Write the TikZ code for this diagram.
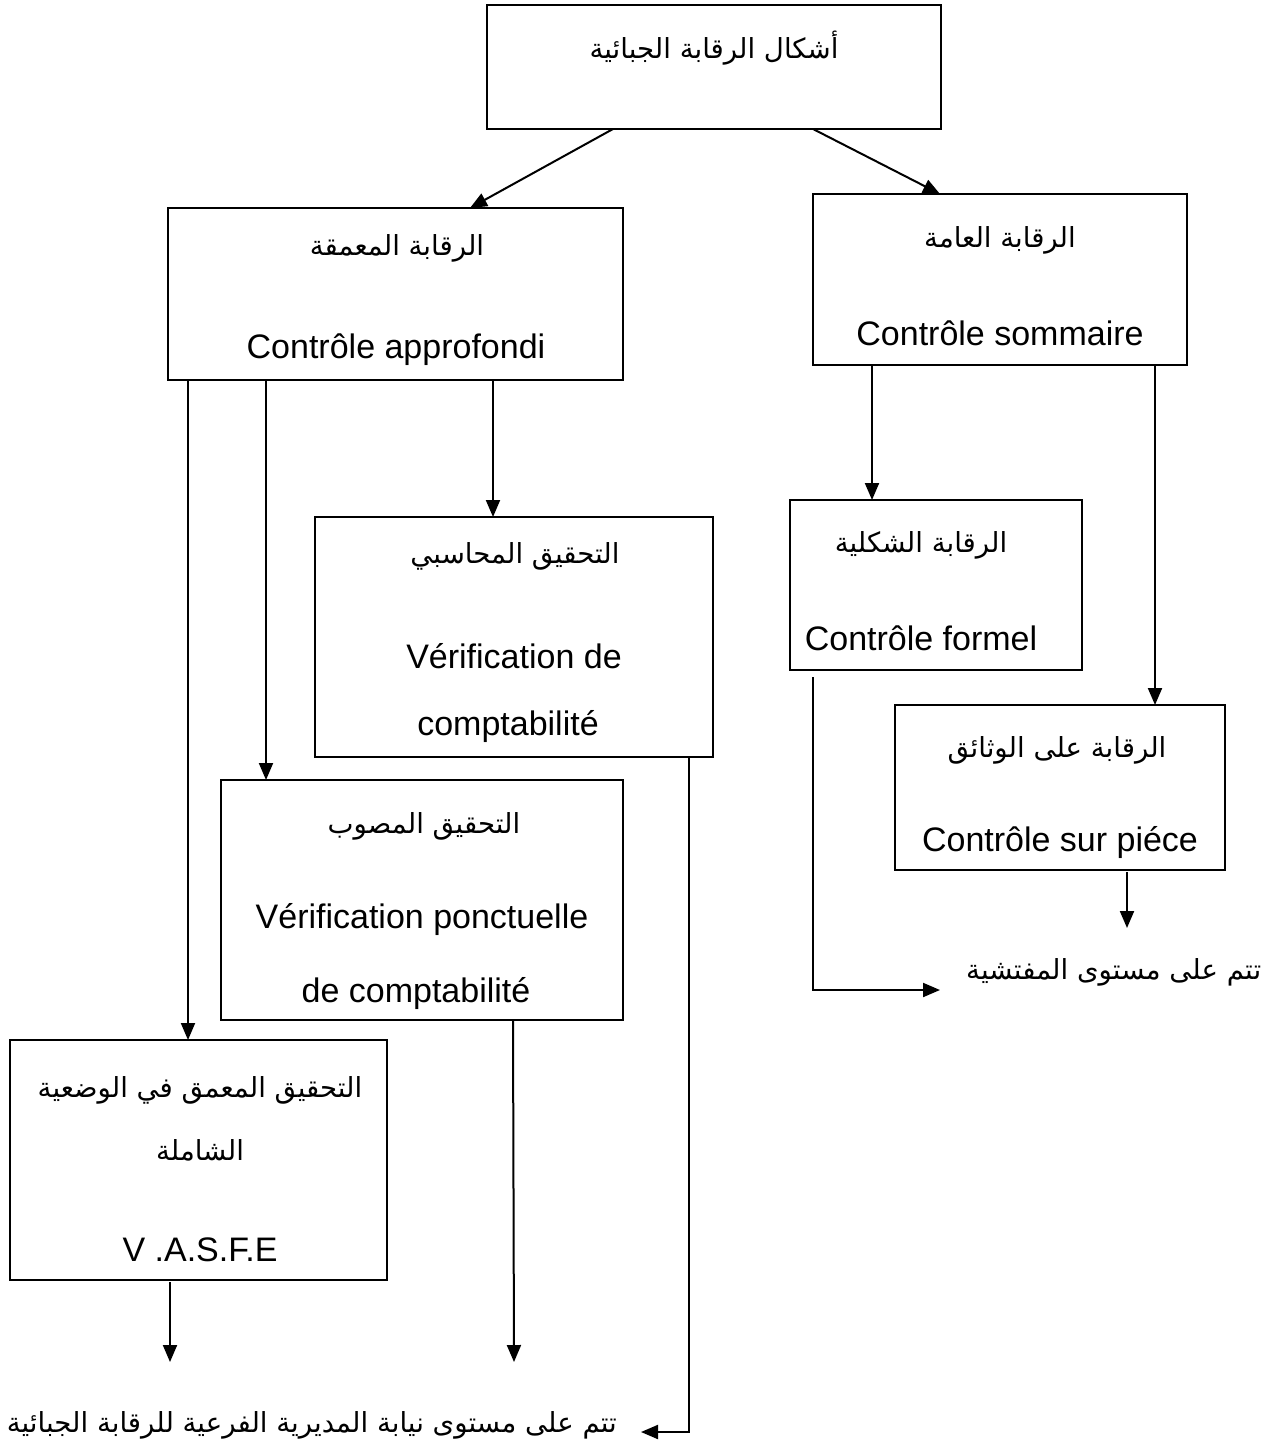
\documentclass[tikz,border=0pt]{standalone}
\usepackage{fontspec}
\setmainfont{Liberation Sans}
\newfontfamily\arabicfont[Script=Arabic]{DejaVu Sans}
\TeXXeTstate=1
\usetikzlibrary{arrows.meta}

\newcommand{\artext}[1]{\beginR #1\endR}

\begin{document}
\begin{tikzpicture}[x=1pt, y=-1pt,
  box/.style={draw, line width=2pt, inner sep=0pt, outer sep=0pt},
  fr/.style={inner sep=0pt, font=\fontsize{34}{40}\selectfont},
  ar/.style={inner sep=0pt, font=\fontsize{27.6}{33}\selectfont\arabicfont},
  arr/.style={line width=2pt, -{Triangle[length=17pt,width=14pt]}},
  ln/.style={line width=2pt}]

\useasboundingbox (0,0) rectangle (1268,1450);

% boxes
\node[box, minimum width=454pt, minimum height=124pt] (top)    at (714,67)    {};
\node[box, minimum width=455pt, minimum height=172pt] (appro)  at (395.5,294) {};
\node[box, minimum width=374pt, minimum height=171pt] (somm)   at (1000,279.5){};
\node[box, minimum width=398pt, minimum height=240pt] (compta) at (514,637)   {};
\node[box, minimum width=402pt, minimum height=240pt] (ponct)  at (422,900)   {};
\node[box, minimum width=377pt, minimum height=240pt] (vasfe)  at (198.5,1160){};
\node[box, minimum width=292pt, minimum height=170pt] (formel) at (936,585)   {};
\node[box, minimum width=330pt, minimum height=165pt] (piece)  at (1060,787.5){};

% texts
\node[ar] (topAr) at (714,48) {\artext{أشكال الرقابة الجبائية}};

\node[ar] (approAr) at (397,248) {\artext{الرقابة المعمقة}};
\node[fr] (approFr) at (396,350) {Contrôle approfondi};

\node[ar] (sommAr) at (1000,240) {\artext{الرقابة العامة}};
\node[fr] (sommFr) at (1000,333) {Contrôle sommaire};

\node[ar] (comptaAr)  at (515,556) {\artext{التحقيق المحاسبي}};
\node[fr] (comptaFrA) at (514,656) {Vérification de};
\node[fr] (comptaFrB) at (508,727) {comptabilité};

\node[ar] (ponctAr)  at (424,826) {\artext{التحقيق المصوب}};
\node[fr] (ponctFrA) at (422,919) {Vérification ponctuelle};
\node[fr] (ponctFrB) at (416,993) {de comptabilité};

\node[ar] (vasfeArA) at (200,1090) {\artext{التحقيق المعمق في الوضعية}};
\node[ar] (vasfeArB) at (200,1150) {\artext{الشاملة}};
\node[fr] (vasfeFr)  at (200,1250) {V .A.S.F.E};

\node[ar] (formelAr) at (921,545) {\artext{الرقابة الشكلية}};
\node[fr] (formelFr) at (921,638) {Contrôle formel};

\node[ar] (pieceAr) at (1057,750) {\artext{الرقابة على الوثائق}};
\node[fr] (pieceFr) at (1060,843) {Contrôle sur piéce};

\node[ar, anchor=west] (inspR) at (966,972) {\artext{تتم على مستوى المفتشية}};
\node[ar, anchor=east] (inspL) at (617,1425) {\artext{تتم على مستوى نيابة المديرية الفرعية للرقابة الجبائية}};

% free ends
\coordinate (endVasfe) at (170,1362);
\coordinate (endPonct) at (514,1362);
\coordinate (endPiece) at (1127,928);
\coordinate (endFormel) at (940,990);
\coordinate (endCompta) at (641,1432);

% connectors
\draw[arr] ([xshift=126pt]top.south west) -- ([xshift=302pt]appro.north west);
\draw[arr] ([xshift=326pt]top.south west) -- ([xshift=127pt]somm.north west);

\draw[arr] ([xshift=20pt]appro.south west)  -- ([xshift=178pt]vasfe.north west);
\draw[arr] ([xshift=98pt]appro.south west)  -- ([xshift=45pt]ponct.north west);
\draw[arr] ([xshift=325pt]appro.south west) -- ([xshift=178pt]compta.north west);

\draw[arr] ([xshift=59pt]somm.south west)  -- ([xshift=82pt]formel.north west);
\draw[arr] ([xshift=342pt]somm.south west) -- ([xshift=260pt]piece.north west);

\draw[arr] ([xshift=232pt,yshift=-2pt]piece.south west) -- (endPiece);
\draw[arr] ([xshift=23pt,yshift=-7pt]formel.south west) |- (endFormel);

\draw[arr] ([xshift=160pt,yshift=-2pt]vasfe.south west) -- (endVasfe);
\draw[arr] ([xshift=292pt]ponct.south west) -- (endPonct);
\draw[arr] ([xshift=374pt]compta.south west) |- (endCompta);

\end{tikzpicture}
\end{document}
